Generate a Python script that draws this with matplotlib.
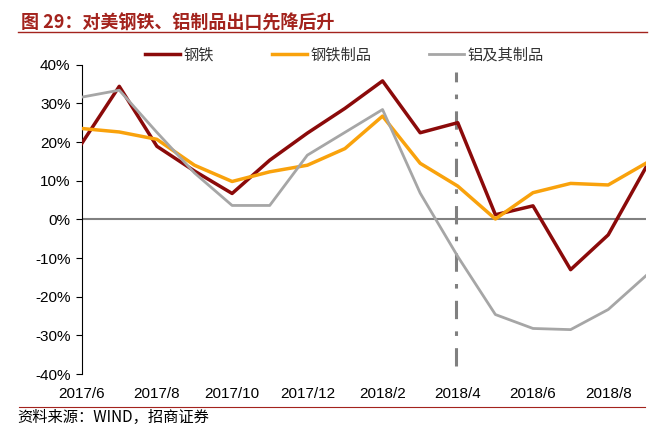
import numpy as np
import matplotlib
matplotlib.use("Agg")
import matplotlib.pyplot as plt
import matplotlib.ticker as plticker

plt.rcParams['font.family'] = ['Liberation Sans', 'Noto Sans CJK SC', 'DejaVu Sans']

# monthly data 2017/6 - 2018/9
months = ['2017/6', '2017/7', '2017/8', '2017/9', '2017/10', '2017/11', '2017/12', '2018/1',
          '2018/2', '2018/3', '2018/4', '2018/5', '2018/6', '2018/7', '2018/8', '2018/9']
steel = [19.6, 34.4, 18.9, 12.5, 6.7, 15.3, 22.3, 28.7, 35.8, 22.4, 25.0, 1.2, 3.5, -13.0, -4.0, 13.4]
steel_prod = [23.5, 22.6, 20.7, 14.0, 9.8, 12.3, 14.0, 18.3, 26.7, 14.5, 8.6, 0.1, 6.9, 9.3, 8.9, 14.5]
alu = [31.6, 33.4, 22.5, 12.0, 3.6, 3.6, 16.6, 22.5, 28.4, 6.8, -9.6, -24.6, -28.2, -28.5, -23.3, -14.6]
names = ['钢铁', '钢铁制品', '铝及其制品']
colors = ['#8b0a0a', '#f9a20c', '#a6a6a6']
event_idx = 9.95  # 2018/4 marker

title = '图 29：对美钢铁、铝制品出口先降后升'
source = '资料来源：WIND，招商证券'
red = '#a3231d'

fig = plt.figure(figsize=(6.57, 4.34), dpi=100)
ax = fig.add_axes([0.1243, 0.138, 0.983 - 0.1243, 0.851 - 0.138])

x = np.arange(len(months))
for vals, nm, c in zip([steel, steel_prod, alu], names, colors):
    lw = 2.5 if c != '#a6a6a6' else 2.0
    ax.plot(x, np.array(vals) / 100., color=c, lw=lw, label=nm, zorder=3)

ax.axhline(0, color='#808080', lw=1.5, zorder=1)
ax.plot([event_idx, event_idx], [-0.38, 0.38], color='#808080', lw=2.2,
        ls=(0, (6, 4, 1.5, 4)), zorder=2)

ax.set_xlim(0, len(months) - 1)
ax.set_ylim(-0.4, 0.4)
ax.yaxis.set_major_locator(plticker.MultipleLocator(0.1))
ax.yaxis.set_major_formatter(plticker.FuncFormatter(lambda v, p: '%d%%' % round(v * 100)))
ax.set_xticks(x[::2])
ax.set_xticklabels(months[::2])
ax.tick_params(axis='x', length=0, pad=9, labelsize=11)
ax.tick_params(axis='y', length=4, direction='out', labelsize=11, pad=4)
for s in ['top', 'right', 'bottom']:
    ax.spines[s].set_visible(False)
ax.spines['left'].set_color('black')

leg = ax.legend(loc='center left', bbox_to_anchor=(0.221, 0.873), bbox_transform=fig.transFigure,
                ncol=3, frameon=False, prop={'family': ['Noto Sans CJK SC'], 'size': 11},
                handlelength=2.3, columnspacing=3.8, handletextpad=0.2,
                borderaxespad=0, borderpad=0)
for t in leg.get_texts():
    t.set_color('#333333')

fig.text(0.032, 0.968, title, fontsize=13, fontweight='bold', color=red,
         family=['Noto Sans CJK SC'], va='top')
fig.add_artist(plt.Line2D([0.027, 0.985], [0.926, 0.926], color=red, lw=1.0))
fig.add_artist(plt.Line2D([0.029, 0.982], [0.062, 0.062], color=red, lw=0.8))
fig.text(0.026, 0.039, source, fontsize=11, color='black',
         family=['Noto Sans CJK SC'], va='center')

plt.savefig('out.png', dpi=100)
